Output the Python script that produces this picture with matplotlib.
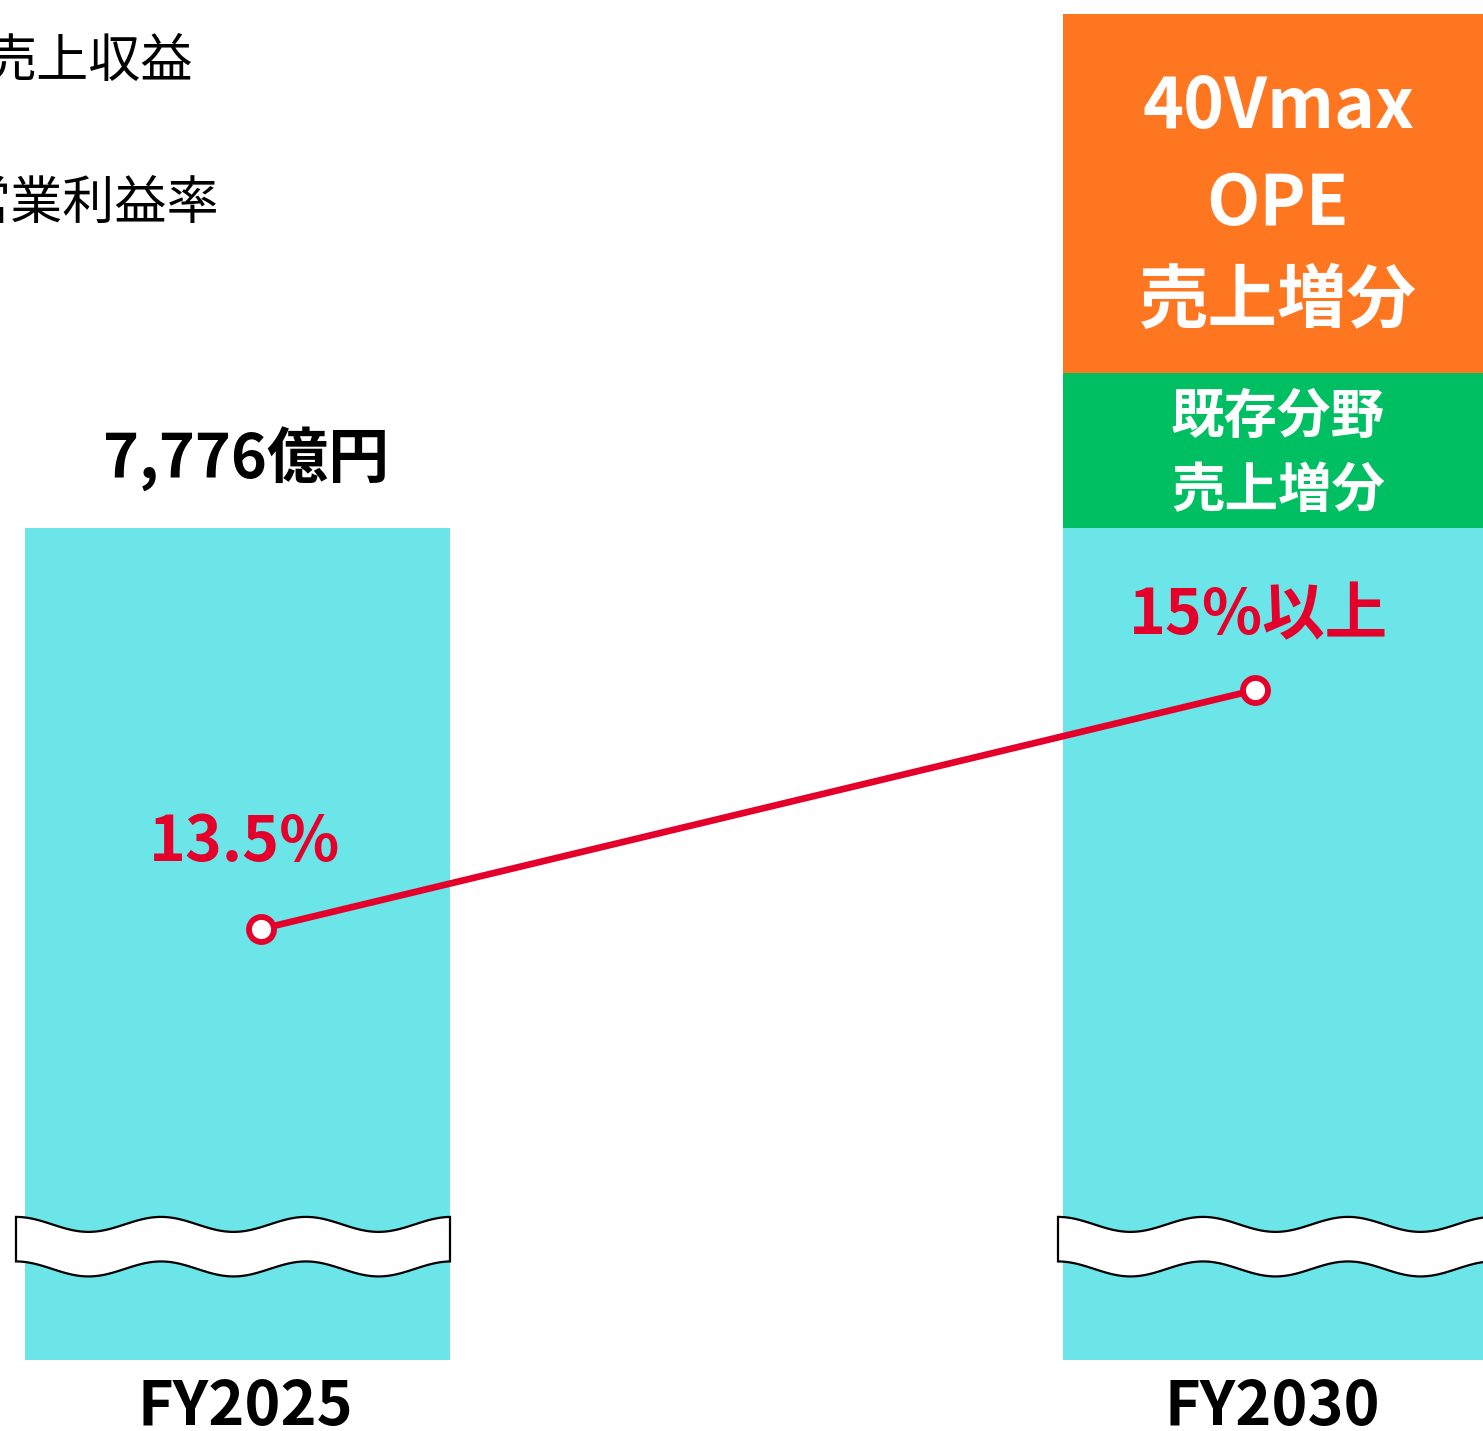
import numpy as np
import matplotlib
matplotlib.use("Agg")
import matplotlib.pyplot as plt
from matplotlib.patches import Polygon

plt.rcParams['font.family'] = ['Noto Sans CJK JP', 'DejaVu Sans']

# ---- data ----
categories = ["FY2025", "FY2030"]
base_sales = [100.0, 100.0]          # visual height of the (broken) base bar
existing_increase = [0.0, 18.6]      # 既存分野 売上増分
ope_increase = [0.0, 43.1]           # 40Vmax OPE 売上増分
margin = [13.5, 15.0]                # 営業利益率 (%)
margin_labels = ["13.5%", "15%以上"]
sales_label = "7,776億円"
legend_labels = ["売上収益", "営業利益率"]

CYAN = "#6BE5E8"
GREEN = "#00BF63"
ORANGE = "#FF7621"
RED = "#E4002B"

W, H = 1483, 1431
fig = plt.figure(figsize=(W / 100, H / 100), dpi=100)

def fx(px):
    return px / W

def fy(py):
    return 1 - (py + 4) / H

# main axes spans bar bottom (1360) to top of stack (14)
ax_bottom, ax_top = 1360, 14
ax = fig.add_axes([0, 1 - ax_bottom / H, 1, (ax_bottom - ax_top) / H])
ax.set_xlim(-237.5 / 1038, (W - 237.5) / 1038)
ax.set_ylim(0, 161.7)
ax.axis("off")

x = np.arange(len(categories))
width = 425 / 1038
b1 = np.array(base_sales)
b2 = b1 + np.array(existing_increase)
ax.bar(x, base_sales, width=width, color=CYAN, linewidth=0)
ax.bar(x, existing_increase, width=width, bottom=b1, color=GREEN, linewidth=0)
ax.bar(x, ope_increase, width=width, bottom=b2, color=ORANGE, linewidth=0)

# wave break symbols
period = 145 / 1038
amp = 0.9
for xi, ext in zip(x, [9, 5]):
    left = xi - width / 2 - ext / 1038
    right = xi + width / 2
    xs = np.linspace(left, right, 300)
    top = 16.29 + amp * np.cos(2 * np.pi * (xs - left) / period)
    bot = 10.94 + amp * np.cos(2 * np.pi * (xs - left) / period)
    pts = np.vstack([np.column_stack([xs, top]), np.column_stack([xs[::-1], bot[::-1]])])
    ax.add_patch(Polygon(pts, closed=True, facecolor="white", edgecolor="black",
                         linewidth=1.6, zorder=3, clip_on=False))

# line axes for operating margin
ax2 = fig.add_axes(ax.get_position(), frameon=False)
ax2.set_xlim(-261 / 994, (W - 261) / 994)
k = 159.3
lo = 13.5 - (1360 - 929) / k
ax2.set_ylim(lo, lo + (ax_bottom - ax_top) / k)
ax2.axis("off")
ax2.plot(x, margin, color=RED, linewidth=4.8, zorder=4, solid_capstyle="butt")
ax2.plot(x, margin, linestyle="none", marker="o", markersize=18, markerfacecolor="white",
         markeredgecolor=RED, markeredgewidth=4.2, zorder=5)

# texts
fig.text(fx(89), fy(58), legend_labels[0], fontsize=37.5, ha="center", va="center", color="black")
fig.text(fx(89), fy(200), legend_labels[1], fontsize=37.5, ha="center", va="center", color="black")

fig.text(fx(246), fy(455), sales_label, fontsize=44, fontweight="bold", ha="center", va="center", color="black")
fig.text(fx(245), fy(838), margin_labels[0], fontsize=45, fontweight="bold", ha="center", va="center", color=RED)
fig.text(fx(1258), fy(612), margin_labels[1], fontsize=45, fontweight="bold", ha="center", va="center", color=RED)

fig.text(fx(1278), fy(104), "40Vmax", fontsize=50, fontweight="bold", ha="center", va="center", color="white")
fig.text(fx(1278), fy(201), "OPE", fontsize=50, fontweight="bold", ha="center", va="center", color="white")
fig.text(fx(1278), fy(298), "売上増分", fontsize=50, fontweight="bold", ha="center", va="center", color="white")
fig.text(fx(1278), fy(413), "既存分野", fontsize=38.5, fontweight="bold", ha="center", va="center", color="white")
fig.text(fx(1278), fy(488), "売上増分", fontsize=38.5, fontweight="bold", ha="center", va="center", color="white")

fig.text(fx(245), fy(1403), categories[0], fontsize=44, fontweight="bold", ha="center", va="center", color="black")
fig.text(fx(1272), fy(1403), categories[1], fontsize=44, fontweight="bold", ha="center", va="center", color="black")

fig.savefig("out.png", dpi=100, facecolor="white")
